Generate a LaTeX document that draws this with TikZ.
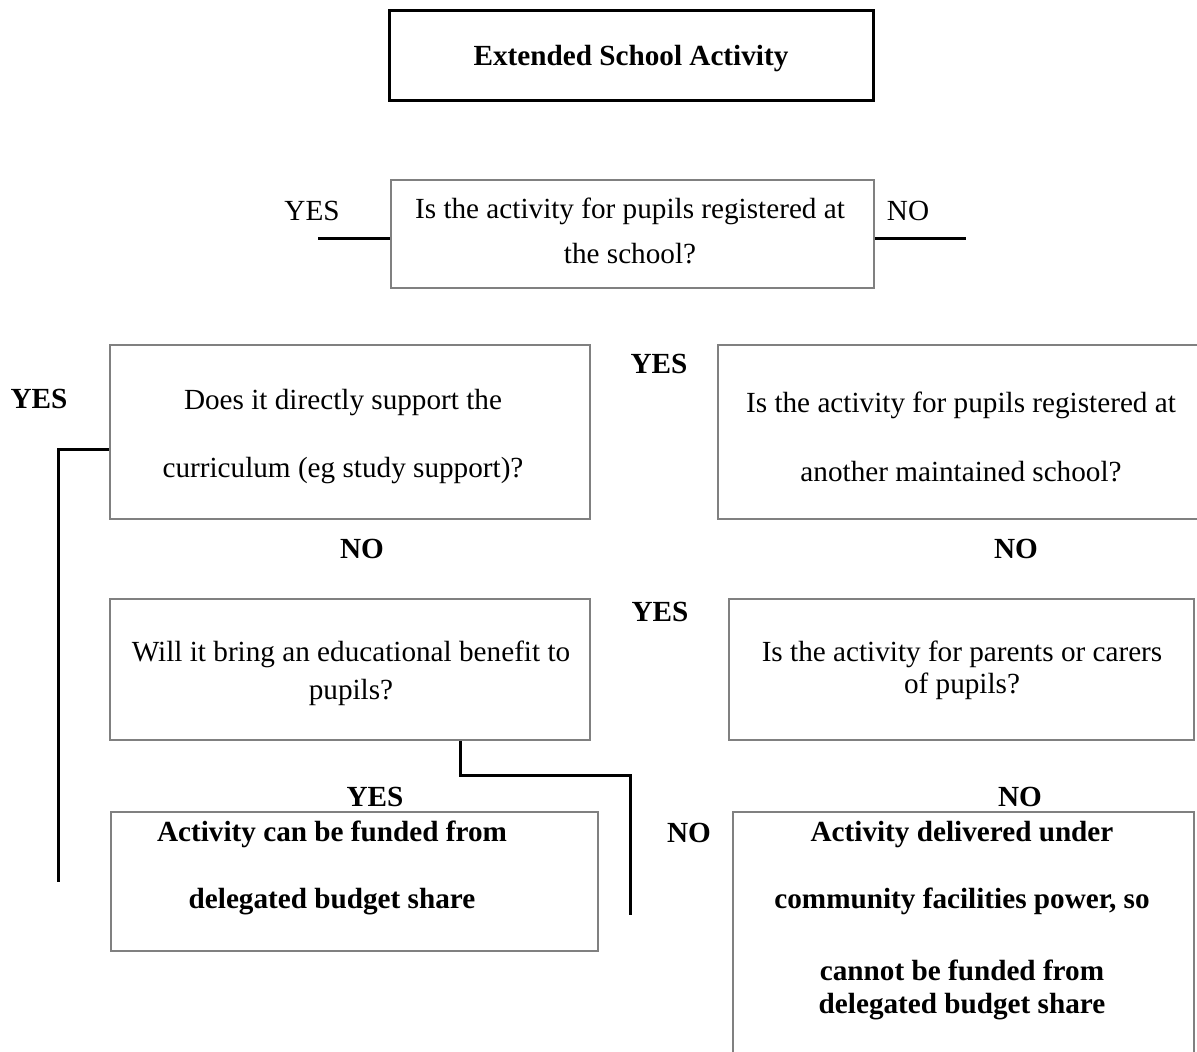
\documentclass[tikz,border=0pt]{standalone}
\usepackage{fontspec}
\setmainfont{Liberation Serif}
\definecolor{boxgray}{HTML}{808080}
\begin{document}
\begin{tikzpicture}[x=0.5pt,y=-0.5pt,
  every node/.style={font=\fontsize{14.6pt}{17pt}\selectfont},
  txt/.style={anchor=base, inner sep=0pt},
  btxt/.style={anchor=base, inner sep=0pt, font=\fontsize{14.6pt}{17pt}\selectfont\bfseries},
  gbox/.style={draw=boxgray, line width=1.4pt, inner sep=0pt, shape=rectangle},
  kbox/.style={draw=black, line width=1.5pt, inner sep=0pt, shape=rectangle},
  conn/.style={draw=black, line width=1.5pt}]
\useasboundingbox (0,0) rectangle (1197,1051);
\clip (0,0) rectangle (1197,1051);

% boxes
\node[kbox, minimum width=242pt, minimum height=45pt] (b1) at (631,55) {};
\node[gbox, minimum width=241.5pt, minimum height=54pt] (b2) at (632.5,234) {};
\node[gbox, minimum width=240pt, minimum height=87pt] (b3) at (350,432) {};
\node[gbox, minimum width=243pt, minimum height=87pt] (b4) at (961,432) {};
\node[gbox, minimum width=240pt, minimum height=70.5pt] (b5) at (350,669.5) {};
\node[gbox, minimum width=232.5pt, minimum height=70.5pt] (b6) at (961.5,669.5) {};
\node[gbox, minimum width=243.5pt, minimum height=69.5pt] (b7) at (354.5,881.5) {};
\node[gbox, minimum width=230.5pt, minimum height=131.5pt] (b8) at (963.5,943.5) {};

% texts
\node[btxt] (t1) at (631,65) {Extended School Activity};
\node[txt] (t2a) at (630,218) {Is the activity for pupils registered at};
\node[txt] (t2b) at (630,263) {the school?};
\node[txt] (t3a) at (343,409) {Does it directly support the};
\node[txt] (t3b) at (343,477) {curriculum (eg study support)?};
\node[txt] (t4a) at (961,412) {Is the activity for pupils registered at};
\node[txt] (t4b) at (961,481) {another maintained school?};
\node[txt] (t5a) at (351,661) {Will it bring an educational benefit to};
\node[txt] (t5b) at (351,699) {pupils?};
\node[txt] (t6a) at (962,661) {Is the activity for parents or carers};
\node[txt] (t6b) at (962,693) {of pupils?};
\node[btxt] (t7a) at (332,841) {Activity can be funded from};
\node[btxt] (t7b) at (332,908) {delegated budget share};
\node[btxt] (t8a) at (962,841) {Activity delivered under};
\node[btxt] (t8b) at (962,908) {community facilities power, so};
\node[btxt] (t8c) at (962,980) {cannot be funded from};
\node[btxt] (t8d) at (962,1013) {delegated budget share};

% labels
\node[txt] (yes2) at (312,220) {YES};
\node[txt] (no2) at (908,220) {NO};
\node[btxt] (yes3) at (39,408) {YES};
\node[btxt] (yes4) at (659,373) {YES};
\node[btxt] (no3) at (362,558) {NO};
\node[btxt] (no4) at (1016,558) {NO};
\node[btxt] (yes5) at (660,621) {YES};
\node[btxt] (yes7) at (375,806) {YES};
\node[btxt] (no8) at (1020,806) {NO};
\node[btxt] (no7) at (689,842) {NO};

% connector ends
\coordinate (c2l) at (318,238);
\coordinate (c2r) at (966,238);
\coordinate (cLt) at (58.5,449.5);
\coordinate (cL) at (58.5,882);
\coordinate (cRt) at (460,775.5);
\coordinate (cR) at (630.5,915);

\draw[conn] (c2l) -- (c2l -| b2.west);
\draw[conn] (c2r -| b2.east) -- (c2r);
\draw[conn] (cLt -| b3.west) -- (cLt) -- (cL);
\draw[conn] (cRt |- b5.south) -- (cRt) -- (cRt -| cR) -- (cR);
\end{tikzpicture}
\end{document}
